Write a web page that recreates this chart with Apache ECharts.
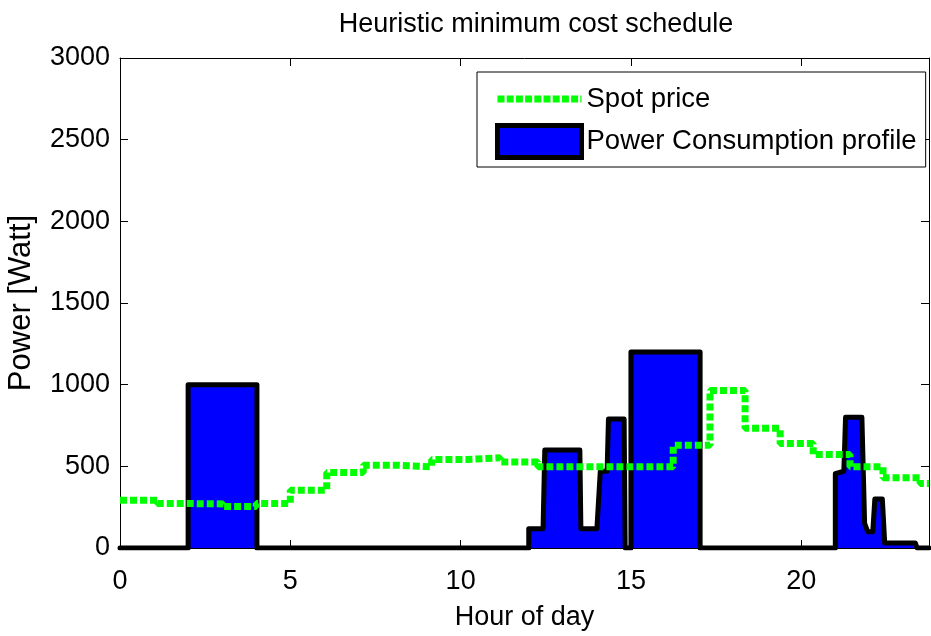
<!DOCTYPE html>
<html>
<head>
<meta charset="utf-8">
<script src="https://cdn.jsdelivr.net/npm/echarts@6/dist/echarts.min.js"></script>
<style>
  html, body { margin: 0; padding: 0; background: #ffffff; }
  #chart { width: 931px; height: 636px; }
</style>
</head>
<body>
<div id="chart"></div>
<script>
// Spot price (scaled to the power axis), held constant from each start hour
const priceHours  = [0, 1.1, 2.05, 3.03, 4.0, 5.0, 6.07, 7.14, 8.12, 9.15, 10.18, 11.16, 12.27, 16.24, 17.32, 18.35, 19.38, 20.35, 21.43, 22.4, 23.49, 23.75];
const priceValues = [292, 272, 270, 254, 272, 354, 462, 507, 497, 542, 552, 527, 497, 629, 965, 733, 640, 572, 497, 430, 395, 395];

// Power consumption profile vertices (hour, watt)
const profileHours = [0, 2.0, 2.0, 4.02, 4.02, 12.0, 12.0, 12.42, 12.47, 13.5, 13.53, 14.0, 14.1, 14.3, 14.34, 14.8, 14.83, 15.0, 15.0, 17.03, 17.03, 21.0, 21.0, 21.25, 21.3, 21.78, 21.86, 21.95, 22.1, 22.16, 22.38, 22.45, 23.35, 23.4, 23.75];
const profileWatts = [0, 0, 1000, 1000, 0, 0, 118, 118, 600, 600, 118, 118, 470, 470, 790, 790, 0, 0, 1200, 1200, 0, 0, 455, 470, 800, 800, 150, 100, 100, 300, 300, 30, 30, 0, 0];

// Axis ticks
const xTicks = [0, 5, 10, 15, 20];
const yMax = 3000, yStep = 500;

const FONT = '"Liberation Sans", Arial, Helvetica, sans-serif';
const FS = 27;

const priceData = priceHours.map((h, i) => [h, priceValues[i]]);
const profileData = profileHours.map((h, i) => [h, profileWatts[i]]);

const chart = echarts.init(document.getElementById('chart'), null, { renderer: 'canvas' });

// shared axis look: black box with inward ticks on all four sides
const baseX = {
  type: 'value', min: 0, max: 23.75, interval: 5,
  axisLine: { show: true, onZero: false, lineStyle: { color: '#000', width: 1 } },
  axisTick: { show: true, inside: true, length: 8, lineStyle: { color: '#000' },
    customValues: xTicks },
  splitLine: { show: false }
};
const baseY = {
  type: 'value', min: 0, max: yMax, interval: yStep,
  axisLine: { show: true, onZero: false, lineStyle: { color: '#000', width: 1 } },
  axisTick: { show: true, inside: true, length: 8, lineStyle: { color: '#000' } },
  splitLine: { show: false }
};

chart.setOption({
  animation: false,
  backgroundColor: '#ffffff',
  textStyle: { fontFamily: FONT },
  title: {
    text: 'Heuristic minimum cost schedule',
    left: 531, top: 6, textAlign: 'center',
    textStyle: { fontFamily: FONT, fontSize: FS, fontWeight: 'normal', color: '#000' }
  },
  grid: { left: 120, right: 2, top: 58, bottom: 88, containLabel: false, outerBoundsMode: 'none' },
  legend: {
    orient: 'vertical',
    left: 477, top: 72,
    padding: [13, 9, 7, 17],
    itemGap: 10,
    itemWidth: 84, itemHeight: 32,
    borderColor: '#000', borderWidth: 1,
    backgroundColor: '#fff',
    textStyle: { fontFamily: FONT, fontSize: 27.5, color: '#000', padding: [0, 0, 0, 0] },
    data: [
      { name: 'Spot price', itemStyle: { opacity: 0 },
        lineStyle: { color: '#00ff00', width: 7, type: [7, 2.2], cap: 'butt', opacity: 1 } },
      { name: 'Power Consumption profile', icon: 'rect',
        itemStyle: { color: '#0000ff', borderColor: '#000', borderWidth: 5 } }
    ]
  },
  xAxis: [
    Object.assign({}, baseX, {
      position: 'bottom',
      name: 'Hour of day', nameLocation: 'middle', nameGap: 56,
      nameTextStyle: { fontFamily: FONT, fontSize: FS, color: '#000' },
      axisLabel: { show: true, margin: 20, fontFamily: FONT, fontSize: FS, color: '#000',
        customValues: xTicks }
    }),
    Object.assign({}, baseX, { position: 'top', axisLabel: { show: false } })
  ],
  yAxis: [
    Object.assign({}, baseY, {
      position: 'left',
      name: 'Power [Watt]', nameLocation: 'middle', nameGap: 83,
      nameTextStyle: { fontFamily: FONT, fontSize: 31, color: '#000' },
      axisLabel: { show: true, margin: 10, fontFamily: FONT, fontSize: FS, color: '#000',
        formatter: v => String(v) }
    }),
    Object.assign({}, baseY, { position: 'right', axisLabel: { show: false } })
  ],
  series: [
    {
      name: 'Power Consumption profile',
      type: 'line',
      data: profileData,
      symbol: 'none',
      z: 2,
      lineStyle: { color: '#000', width: 5, join: 'round', cap: 'round' },
      itemStyle: { color: '#0000ff', borderColor: '#000', borderWidth: 5 },
      areaStyle: { color: '#0000ff', opacity: 1 }
    },
    {
      name: 'Spot price',
      type: 'line',
      step: 'end',
      data: priceData,
      symbol: 'none',
      z: 3,
      lineStyle: { color: '#00ff00', width: 7, type: [7, 3], cap: 'butt' },
      itemStyle: { color: '#00ff00' }
    }
  ]
});
</script>
</body>
</html>
